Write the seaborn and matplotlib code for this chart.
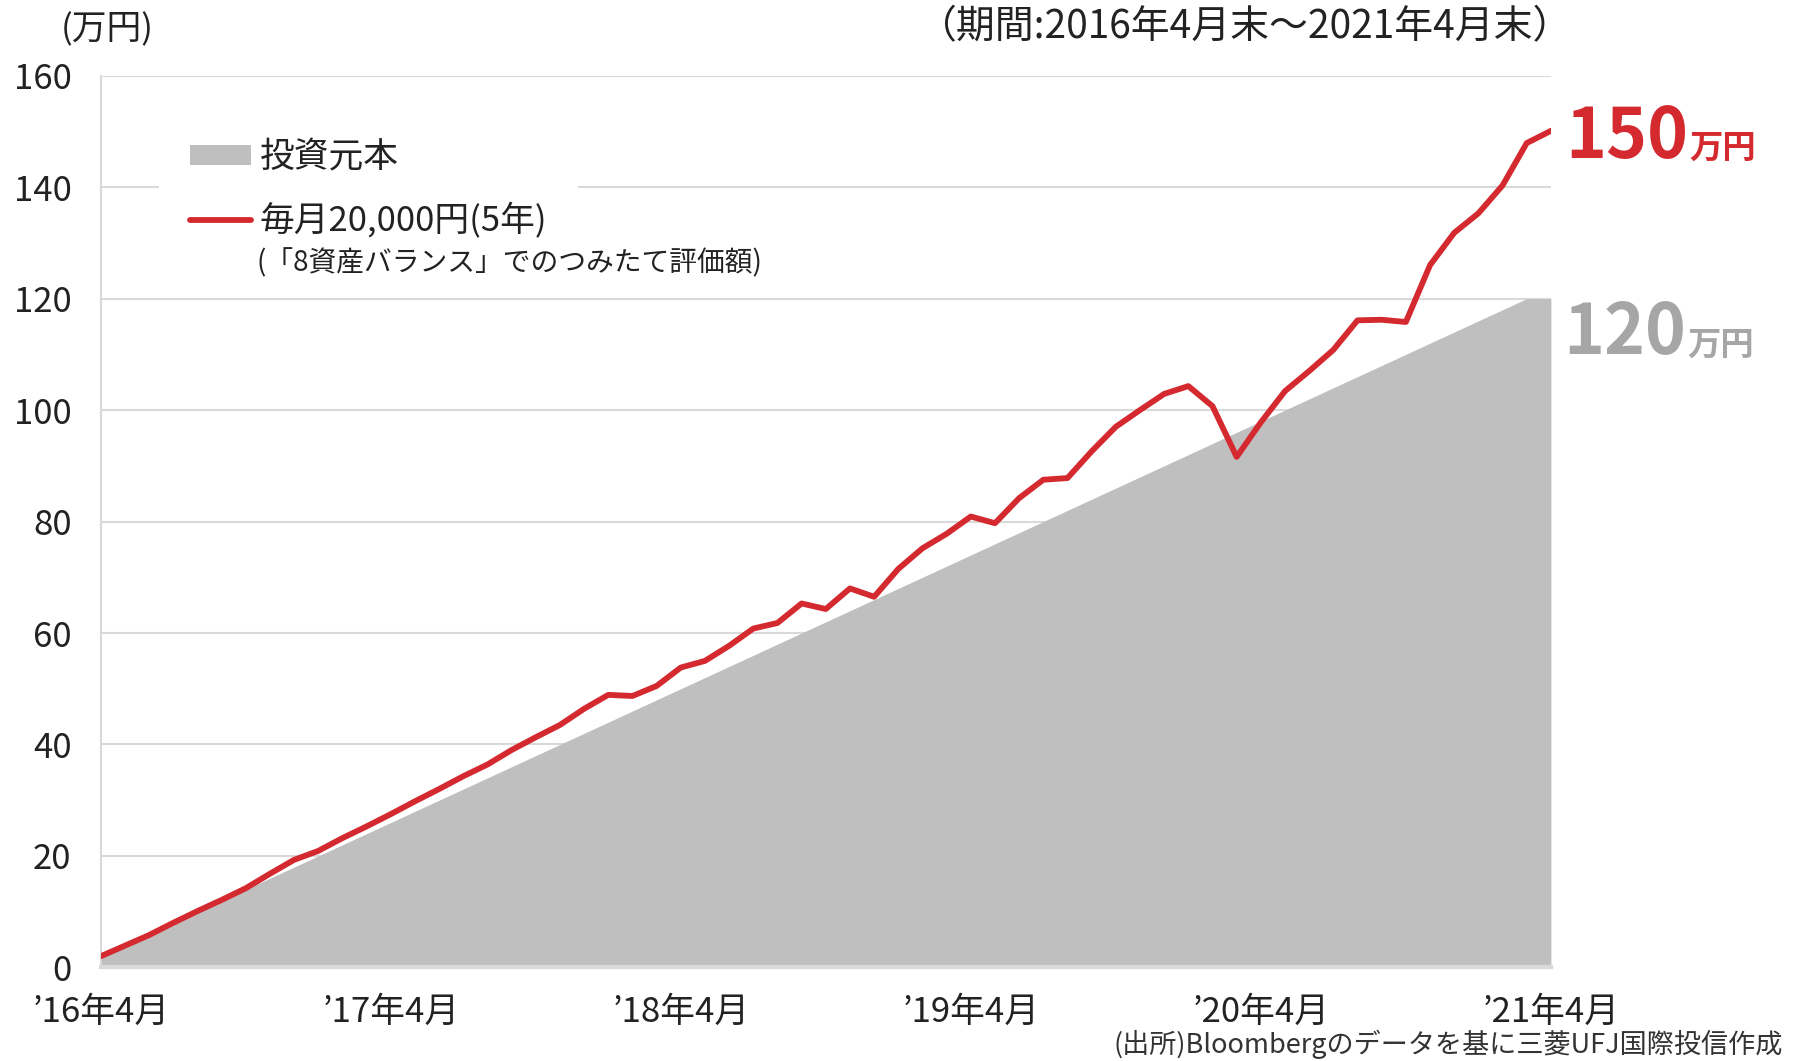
import numpy as np
import pandas as pd
import seaborn as sns
from matplotlib import pyplot as plt
from matplotlib.patches import Patch
from matplotlib.lines import Line2D

# monthly data, end of Apr 2016 .. end of Apr 2021 (61 points)
months = list(range(61))
principal = [2, 4, 6, 8, 10, 12, 14, 16, 18, 20, 22, 24, 26, 28, 30, 32, 34, 36, 38, 40,
             42, 44, 46, 48, 50, 52, 54, 56, 58, 60, 62, 64, 66, 68, 70, 72, 74, 76, 78, 80,
             82, 84, 86, 88, 90, 92, 94, 96, 98, 100, 102, 104, 106, 108, 110, 112, 114, 116, 118, 120,
             120]
valuation = [2.0, 3.9, 5.8, 8.0, 10.1, 12.1, 14.2, 16.8, 19.3, 20.9, 23.2, 25.3,
             27.5, 29.8, 32.0, 34.3, 36.4, 39.0, 41.3, 43.5, 46.4, 48.9, 48.7, 50.5,
             53.8, 55.0, 57.7, 60.8, 61.8, 65.3, 64.3, 68.0, 66.5, 71.5, 75.2, 77.8,
             80.9, 79.7, 84.2, 87.5, 87.8, 92.6, 97.0, 100.0, 102.9, 104.3, 100.7, 91.6,
             97.8, 103.4, 107.0, 110.8, 116.1, 116.2, 115.8, 126.0, 131.8, 135.3, 140.3, 147.9,
             150.1]
tick_pos = [0, 12, 24, 36, 48, 60]
tick_labels = ['’16年4月', '’17年4月', '’18年4月', '’19年4月', '’20年4月', '’21年4月']
y_ticks = [0, 20, 40, 60, 80, 100, 120, 140, 160]

df = pd.DataFrame({'month': months, 'principal': principal, 'valuation': valuation})

sns.set_style('white')
plt.rcParams['font.family'] = ['Noto Sans CJK JP', 'DejaVu Sans']

RED = '#d42a2f'
GRAY = '#bfbfbf'
GRID = '#d9d9d9'
TXT = '#222222'

fig = plt.figure(figsize=(17.95, 10.61), dpi=100)
ax = fig.add_axes([0.0561, 0.0882, 0.864 - 0.0561, 0.9287 - 0.0882])

ax.fill_between(df['month'], df['principal'], 0, color=GRAY, lw=0, zorder=2)
sns.lineplot(data=df, x='month', y='valuation', color=RED, lw=4.2, ax=ax, zorder=3)

ax.set_xlim(0, 60)
ax.set_ylim(0, 160)
ax.set_yticks(y_ticks)
ax.set_xticks(tick_pos)
ax.set_xticklabels(tick_labels)
ax.set(xlabel='', ylabel='')
ax.grid(axis='y', color=GRID, lw=1.5)
ax.set_axisbelow(True)

for s in ['top', 'right']:
    ax.spines[s].set_visible(False)
ax.spines['left'].set_color(GRID)
ax.spines['left'].set_linewidth(1.5)
ax.spines['bottom'].set_color(GRID)
ax.spines['bottom'].set_linewidth(3)
ax.spines['bottom'].set_zorder(4)

ax.tick_params(axis='y', length=0, pad=21, labelsize=25, labelcolor=TXT)
ax.tick_params(axis='x', direction='inout', length=14, width=1.5, color=GRID, pad=13,
               labelsize=25, labelcolor=TXT)

# legend
handles = [Patch(facecolor=GRAY, edgecolor='none'),
           Line2D([0], [0], color=RED, lw=4.2)]
leg = ax.legend(handles, ['投資元本', '毎月20,000円(5年)'], loc='upper left',
                bbox_to_anchor=(0.028, 0.982), fontsize=25, frameon=True, facecolor='white',
                edgecolor='none', framealpha=1, handlelength=1.75, handleheight=0.5,
                handletextpad=0.25, labelspacing=0.8, borderpad=0.9)
for t in leg.get_texts():
    t.set_color(TXT)
ax.text(0.1075, 0.789, '(「8資産バランス」でのつみたて評価額)', transform=ax.transAxes,
        fontsize=20, color=TXT, va='center', ha='left', zorder=6)

# titles and notes
fig.text(0.034, 0.972, '(万円)', fontsize=25, color=TXT, ha='left', va='center')
fig.text(0.8757, 0.974, '（期間:2016年4月末〜2021年4月末）', fontsize=28, color=TXT,
         ha='right', va='center')
fig.text(0.993, 0.002, '(出所)Bloombergのデータを基に三菱UFJ国際投信作成', fontsize=19.5,
         color='#333333', ha='right', va='bottom')

# end labels
fig.text(0.872, 0.851, '150', fontsize=50, color=RED, fontweight='bold', ha='left',
         va='baseline')
fig.text(0.941, 0.851, '万円', fontsize=24, color=RED, fontweight='bold', ha='left',
         va='baseline')
fig.text(0.871, 0.666, '120', fontsize=50, color='#a6a6a6', fontweight='bold', ha='left',
         va='baseline')
fig.text(0.940, 0.666, '万円', fontsize=24, color='#a6a6a6', fontweight='bold', ha='left',
         va='baseline')

plt.savefig('out.png', dpi=100)
